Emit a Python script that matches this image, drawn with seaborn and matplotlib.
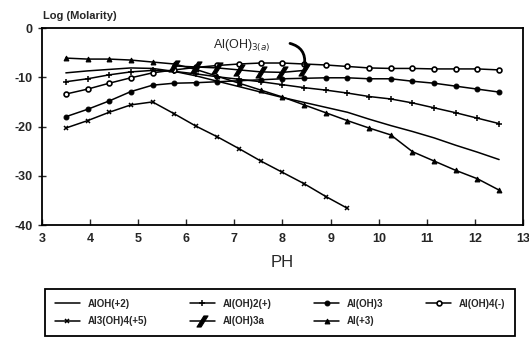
import numpy as np
import pandas as pd
import matplotlib
matplotlib.use('Agg')
import matplotlib.pyplot as plt
from matplotlib.path import Path
import seaborn as sns

# pH grid used by the speciation runs
ph = [3.5, 3.95, 4.4, 4.85, 5.3, 5.75, 6.2, 6.65, 7.1, 7.55, 8.0,
      8.45, 8.9, 9.35, 9.8, 10.25, 10.7, 11.15, 11.6, 12.05, 12.5]

aloh_2 = [-9.1, -8.7, -8.4, -8.1, -8.2, -8.8, -9.7, -10.8, -11.9, -13.0, -14.1,
          -15.1, -16.1, -17.1, -18.5, -19.8, -21.0, -22.3, -23.8, -25.2, -26.7]
aloh2_1 = [-10.9, -10.3, -9.5, -8.9, -8.6, -8.8, -9.3, -9.9, -10.4, -10.9, -11.5,
           -12.1, -12.6, -13.2, -13.9, -14.4, -15.2, -16.2, -17.2, -18.3, -19.4]
aloh3 = [-18.0, -16.5, -14.8, -12.9, -11.6, -11.2, -11.1, -10.9, -10.7, -10.5, -10.3,
         -10.2, -10.1, -10.1, -10.3, -10.3, -10.8, -11.2, -11.8, -12.4, -13.0]
aloh4 = [-13.4, -12.4, -11.2, -10.1, -9.1, -8.5, -8.0, -7.6, -7.3, -7.1, -7.1,
         -7.3, -7.5, -7.8, -8.1, -8.2, -8.2, -8.3, -8.3, -8.3, -8.5]
al3_ph = ph[:14]
al3oh4 = [-20.3, -18.8, -17.1, -15.6, -15.0, -17.4, -19.9, -22.1, -24.5, -27.0,
          -29.3, -31.6, -34.2, -36.6]
ppt_ph = [5.75, 6.2, 6.65, 7.1, 7.55, 8.0, 8.45]
aloh3a = [-7.7, -7.9, -8.1, -8.5, -8.9, -9.0, -8.6]
al_3 = [-6.1, -6.3, -6.3, -6.5, -6.9, -7.3, -8.4, -9.8, -11.2, -12.6, -14.0,
        -15.6, -17.2, -18.8, -20.3, -21.7, -25.1, -27.0, -28.9, -30.6, -32.9]

sns.set_style('ticks')
plt.rcParams['font.family'] = ['Liberation Sans', 'DejaVu Sans']
plt.rcParams['axes.unicode_minus'] = False

fig = plt.figure(figsize=(5.29, 3.55), dpi=100)
ax = fig.add_axes([0.079, 0.366, 0.91, 0.555])

slash = Path([(-1.0, -1.0), (-0.25, -1.0), (1.0, 1.0), (0.25, 1.0), (-1.0, -1.0)],
             [Path.MOVETO, Path.LINETO, Path.LINETO, Path.LINETO, Path.CLOSEPOLY])

kw = dict(color='black', linewidth=1.1, ax=ax, markeredgecolor='black')
sns.lineplot(x=ph, y=aloh_2, label='AlOH(+2)', **kw)
sns.lineplot(x=ph, y=aloh2_1, label='Al(OH)2(+)', marker='+', markersize=5,
             markeredgewidth=1.1, **kw)
sns.lineplot(x=ph, y=aloh3, label='Al(OH)3', marker='o', markersize=3.5, **kw)
sns.lineplot(x=ph, y=aloh4, label='Al(OH)4(-)', marker='o', markersize=3.5,
             markerfacecolor='white', markeredgewidth=1.2, **kw)
sns.lineplot(x=al3_ph, y=al3oh4, label='Al3(OH)4(+5)', marker='x', markersize=3.5,
             markeredgewidth=1.1, **kw)
sns.lineplot(x=ppt_ph, y=aloh3a, label='Al(OH)3a', marker=slash, markersize=8, **kw)
sns.lineplot(x=ph, y=al_3, label='Al(+3)', marker='^', markersize=3.5, **kw)

ax.set_xlim(3, 13)
ax.set_ylim(-40, 0)
ax.set_xticks(range(3, 14))
ax.set_yticks([0, -10, -20, -30, -40])
ax.tick_params(axis='x', direction='in', length=4, width=1, labelsize=9, pad=6)
ax.tick_params(axis='y', direction='inout', length=6, width=1, labelsize=9)
for lab in ax.get_xticklabels() + ax.get_yticklabels():
    lab.set_fontweight('bold')
for s in ax.spines.values():
    s.set_linewidth(1.3)
    s.set_color('black')
ax.set_xlabel('PH', fontsize=12, labelpad=7)
ax.set_ylabel('')
fig.text(0.081, 0.955, 'Log (Molarity)', fontsize=8, fontweight='bold', ha='left', va='center')

ax.text(6.55, -3.6, r'Al(OH)$_{3(a)}$', fontsize=9, ha='left', va='center')
ax.annotate('', xy=(8.45, -8.0), xytext=(8.1, -3.0),
            arrowprops=dict(arrowstyle='-', color='black', linewidth=2,
                            connectionstyle='arc3,rad=-0.5'))

handles, labels = ax.get_legend_handles_labels()
order = [0, 4, 1, 5, 2, 6, 3]
ax.legend([handles[i] for i in order], [labels[i] for i in order],
          ncol=4, loc='upper left', bbox_to_anchor=(0.076, 0.065, 0.907, 0.135),
          bbox_transform=fig.transFigure, mode='expand', fancybox=False,
          edgecolor='black', framealpha=1, handlelength=2.6,
          borderpad=1.0, labelspacing=0.8, prop={'weight': 'bold', 'size': 7})
ax.get_legend().get_frame().set_linewidth(1.3)

fig.savefig('out.png', dpi=100)
